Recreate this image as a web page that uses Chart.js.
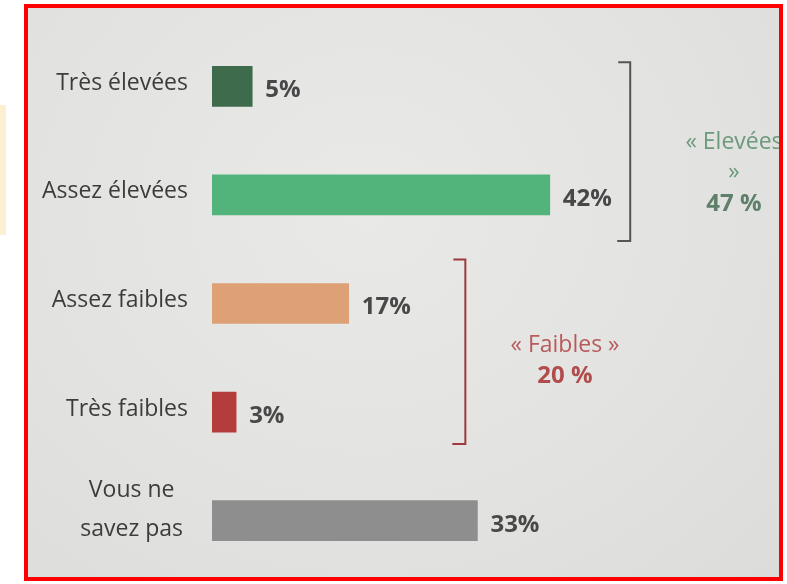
<!DOCTYPE html>
<html>
<head>
<meta charset="utf-8">
<script src="https://cdn.jsdelivr.net/npm/chart.js@4"></script>
<style>
    body { margin: 0; background: #ffffff; width: 787px; height: 584px; overflow: hidden; position: relative; }
    #strip { position: absolute; left: 0; top: 105px; width: 6px; height: 130px; background: #fdf0d2; }
    #frame {
        position: absolute; left: 24px; top: 4px; width: 751px; height: 569px;
        border: 4px solid #ff0000;
        background: radial-gradient(ellipse at 45% 35%, #e9e9e7 0%, #e2e2e0 60%, #dcdcda 100%);
    }
    #chart { position: absolute; left: 0; top: 0; }
</style>
</head>
<body>
<div id="strip"></div>
<div id="frame"><canvas id="chart" width="751" height="569"></canvas></div>
<script>
// Data
const categories = ['Très élevées', 'Assez élevées', 'Assez faibles', 'Très faibles', ['Vous ne', 'savez pas']];
const values = [5, 42, 17, 3, 33];
const valueLabels = ['5%', '42%', '17%', '3%', '33%'];
const barColors = ['#3e6b4c', '#52b47b', '#dea175', '#b43c3c', '#8e8e8e'];

const groupLabels = [['« Elevées', '»'], ['« Faibles »']];
const groupTotals = ['47 %', '20 %'];
const groupRanges = [[0, 1], [2, 3]];
const groupColors = ['#6b9a7c', '#b85a5a'];
const groupTotalColors = ['#5f7f6a', '#b04c4c'];
const bracketColors = ['#555555', '#9e3a3a'];

const FONT = '"Open Sans", Lato, sans-serif';

// draws category names, value labels, brackets and group captions
const annotations = {
    id: 'annotations',
    afterDatasetsDraw(chart) {
        const ctx = chart.ctx;
        const xs = chart.scales.x;
        const ys = chart.scales.y;
        const meta = chart.getDatasetMeta(0);
        ctx.save();

        // category names
        ctx.fillStyle = '#3c3c3c';
        ctx.font = '23px ' + FONT;
        ctx.textBaseline = 'middle';
        const labelRight = 160;
        categories.forEach((c, i) => {
            const y = ys.getPixelForValue(i);
            if (Array.isArray(c)) {
                const w = Math.max(...c.map(t => ctx.measureText(t).width));
                ctx.textAlign = 'center';
                c.forEach((t, k) => {
                    ctx.fillText(t, labelRight - 5 - w / 2, y - 30 + k * 39);
                });
            } else {
                ctx.textAlign = 'right';
                ctx.fillText(c, labelRight, y - 3);
            }
        });

        // value labels
        ctx.font = 'bold 24px ' + FONT;
        ctx.fillStyle = '#484848';
        ctx.textAlign = 'left';
        meta.data.forEach((bar, i) => {
            ctx.fillText(valueLabels[i], bar.x + 13, bar.y + 4);
        });

        // brackets
        const bracketX = [52, 31.5];
        const bracketPad = [[24, 46], [44, 32]];
        groupRanges.forEach((r, g) => {
            const x = xs.getPixelForValue(bracketX[g]);
            const top = ys.getPixelForValue(r[0]) - bracketPad[g][0];
            const bot = ys.getPixelForValue(r[1]) + bracketPad[g][1];
            ctx.strokeStyle = bracketColors[g];
            ctx.lineWidth = 2;
            ctx.beginPath();
            ctx.moveTo(x - 12, top);
            ctx.lineTo(x, top);
            ctx.lineTo(x, bot);
            ctx.lineTo(x - 13, bot);
            ctx.stroke();
        });

        // group captions
        const captionX = [706, 537];
        const captionY = [134, 337];
        ctx.textAlign = 'center';
        groupLabels.forEach((lines, g) => {
            ctx.font = '23px ' + FONT;
            ctx.fillStyle = groupColors[g];
            lines.forEach((t, k) => {
                ctx.fillText(t, captionX[g], captionY[g] + k * 30);
            });
            ctx.font = 'bold 24px ' + FONT;
            ctx.fillStyle = groupTotalColors[g];
            ctx.fillText(groupTotals[g], captionX[g], captionY[g] + lines.length * 31);
        });

        ctx.restore();
    }
};

new Chart(document.getElementById('chart'), {
    type: 'bar',
    data: {
        labels: categories,
        datasets: [{
            data: values,
            backgroundColor: barColors,
            borderWidth: 0,
            barThickness: 40
        }]
    },
    options: {
        indexAxis: 'y',
        responsive: false,
        animation: false,
        layout: { padding: { left: 184, top: 24, right: 0, bottom: 2 } },
        plugins: {
            legend: { display: false },
            tooltip: { enabled: false }
        },
        scales: {
            x: { display: false, min: 0, max: 70.5 },
            y: { display: false }
        }
    },
    plugins: [annotations]
});
</script>
</body>
</html>
